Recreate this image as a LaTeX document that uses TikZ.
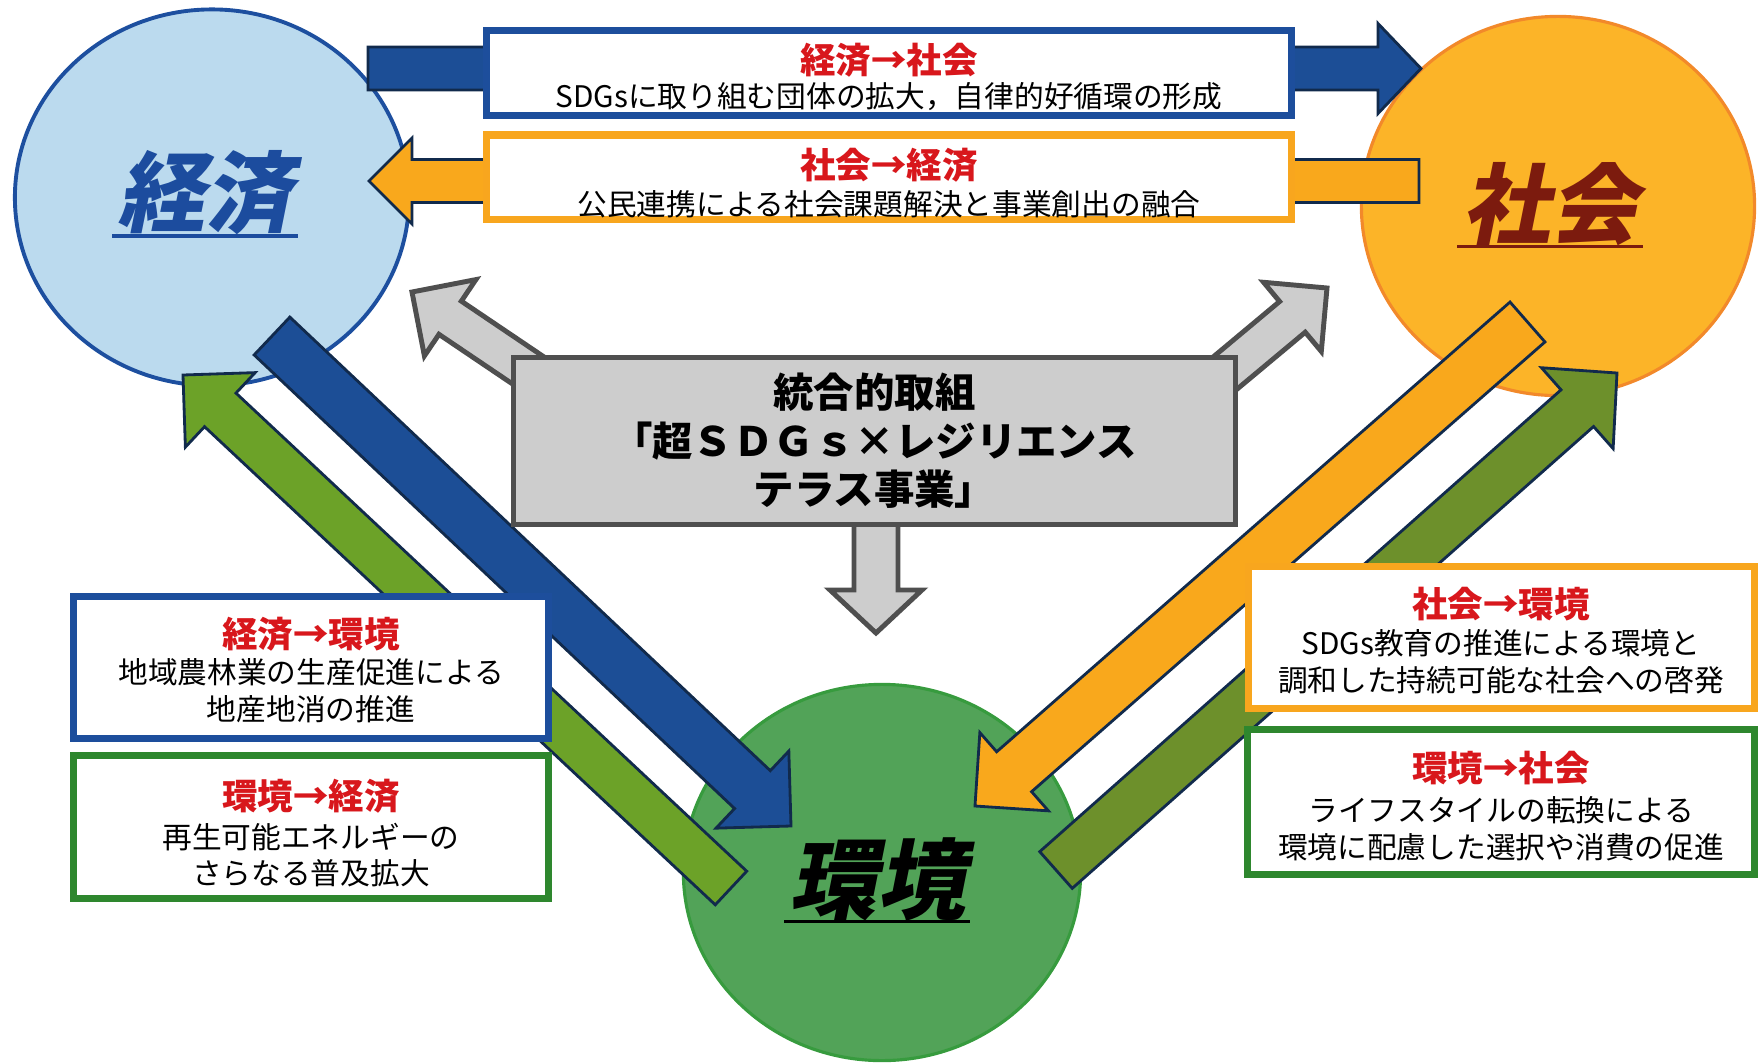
\documentclass[tikz,border=0pt]{standalone}
\usepackage{fontspec}
\setmainfont{Noto Sans CJK JP}
\newfontfamily\slantjp{Noto Sans CJK JP}[FakeSlant=0.2]
\usetikzlibrary{calc,shapes.geometric}

\definecolor{econFill}{HTML}{BBDAEE}
\definecolor{econLine}{HTML}{1D4F9F}
\definecolor{socFill}{HTML}{FCB428}
\definecolor{socLine}{HTML}{F2892A}
\definecolor{envFill}{HTML}{52A358}
\definecolor{envLine}{HTML}{379B3E}
\definecolor{arrBlue}{HTML}{1C4E96}
\definecolor{arrOrange}{HTML}{F9A81C}
\definecolor{arrGreenL}{HTML}{6CA228}
\definecolor{arrGreenR}{HTML}{6D902B}
\definecolor{navy}{HTML}{112A4C}
\definecolor{grayFill}{HTML}{CDCDCD}
\definecolor{grayLine}{HTML}{4F4F4F}
\definecolor{boxBlue}{HTML}{1D4E9C}
\definecolor{boxOrange}{HTML}{F8A61E}
\definecolor{boxGreen}{HTML}{2E872E}
\definecolor{titleRed}{HTML}{D8171C}
\definecolor{socText}{HTML}{7C1B0E}
\definecolor{econText}{HTML}{1C4C9E}

% block arrow: #1 style, #2 start, #3 tip, #4 half shaft, #5 half head, #6 head length
\newcommand\blockarr[6]{%
  \coordinate (ba-b) at ($(#3)!#6!(#2)$);
  \filldraw[#1] ($(#2)!#4!90:(#3)$) -- ($(ba-b)!#4!90:(#3)$) -- ($(ba-b)!#5!90:(#3)$) -- (#3)
    -- ($(ba-b)!#5!-90:(#3)$) -- ($(ba-b)!#4!-90:(#3)$) -- ($(#2)!#4!-90:(#3)$) -- cycle;}

\tikzset{
  circ/.style={ellipse, inner sep=0pt},
  arrBase/.style={line width=0.8pt, draw=navy, line join=miter},
  blueArr/.style={arrBase, fill=arrBlue},
  orangeArr/.style={arrBase, fill=arrOrange},
  greenArrL/.style={arrBase, fill=arrGreenL},
  greenArrR/.style={arrBase, fill=arrGreenR},
  grayArr/.style={fill=grayFill, draw=grayLine, line width=1.4pt, line join=miter},
  txtbox/.style={rectangle, fill=white, line width=2pt, inner sep=0pt},
  graybox/.style={rectangle, fill=grayFill, draw=grayLine, line width=1.5pt, inner sep=0pt,
    align=center, font=\fontsize{11.5pt}{13.8pt}\selectfont\bfseries},
  ttl/.style={text=titleRed, font=\fontsize{10.1pt}{12pt}\selectfont\bfseries, inner sep=0pt},
  bodytxt/.style={font=\fontsize{8.45pt}{10pt}\selectfont, inner sep=0pt},
  bigLabel/.style={font=\slantjp\fontsize{25pt}{30pt}\selectfont\bfseries, inner sep=0pt},
  underl/.style={line width=1.1pt},
}

\begin{document}
\begin{tikzpicture}[x=0.01cm,y=-0.01cm]
\useasboundingbox (0,0) rectangle (1759,1063);

% circles
\node[circ, draw=econLine, fill=econFill, line width=1.1pt, minimum width=3.94cm, minimum height=3.76cm] (econ) at (212,197.5) {};
\node[circ, draw=socLine, fill=socFill, line width=0.9pt, minimum width=3.93cm, minimum height=3.79cm] (soc) at (1558,206) {};
\node[circ, draw=envLine, fill=envFill, line width=0.9pt, minimum width=3.97cm, minimum height=3.76cm] (env) at (882,872.5) {};

% circle labels
\node[bigLabel, text=econText] (econL) at (205,193) {経済};
\draw[underl, econText] ([xshift=-0.04cm]econL.south west) -- ([xshift=0.04cm]econL.south east);
\node[bigLabel, text=socText] (socL) at (1550,204) {社会};
\draw[underl, socText] ([xshift=-0.04cm]socL.south west) -- ([xshift=0.04cm]socL.south east);
\node[bigLabel, text=black] (envL) at (877,879) {環境};
\draw[underl, black] ([xshift=-0.04cm]envL.south west) -- ([xshift=0.04cm]envL.south east);

% arrow end points
\coordinate (a1s) at (368,68.5);   \coordinate (a1t) at (1421,68.5);
\coordinate (a2s) at (1419,181);   \coordinate (a2t) at (369,181);
\coordinate (a3s) at (272,336);    \coordinate (a3t) at (791,826);
\coordinate (a4s) at (731,888);    \coordinate (a4t) at (183,375);
\coordinate (a5s) at (1527.5,322); \coordinate (a5t) at (975,806);
\coordinate (a6s) at (1056,870);   \coordinate (a6t) at (1617,373);
\coordinate (g1s) at (578,404);    \coordinate (g1t) at (412,292);
\coordinate (g2s) at (1212,384);   \coordinate (g2t) at (1327,288);
\coordinate (g3s) at (876,500);    \coordinate (g3t) at (876,633);

% arrows between the three spheres
\blockarr{blueArr}{a1s}{a1t}{0.215cm}{0.45cm}{0.43cm}
\blockarr{orangeArr}{a2s}{a2t}{0.215cm}{0.43cm}{0.43cm}
\blockarr{greenArrL}{a4s}{a4t}{0.23cm}{0.51cm}{0.51cm}
\blockarr{blueArr}{a3s}{a3t}{0.26cm}{0.53cm}{0.53cm}
\blockarr{greenArrR}{a6s}{a6t}{0.245cm}{0.54cm}{0.53cm}
\blockarr{orangeArr}{a5s}{a5t}{0.265cm}{0.52cm}{0.52cm}

% integrated approach
\blockarr{grayArr}{g1s}{g1t}{0.20cm}{0.46cm}{0.46cm}
\blockarr{grayArr}{g2s}{g2t}{0.20cm}{0.45cm}{0.45cm}
\blockarr{grayArr}{g3s}{g3t}{0.22cm}{0.46cm}{0.43cm}
\node[graybox, minimum width=7.22cm, minimum height=1.67cm] (core) at (874.5,441)
  {統合的取組\\「超ＳＤＧｓ×レジリエンス\\テラス事業」};

% top boxes
\node[txtbox, draw=boxBlue, minimum width=8.04cm, minimum height=0.84cm] (b1) at (889,73) {};
\node[ttl] (b1t) at (889,60) {経済→社会};
\node[bodytxt] (b1a) at (889,97) {SDGsに取り組む団体の拡大，自律的好循環の形成};
\node[txtbox, draw=boxOrange, minimum width=8.04cm, minimum height=0.84cm] (b2) at (889,177) {};
\node[ttl] (b2t) at (889,165) {社会→経済};
\node[bodytxt] (b2a) at (889,204) {公民連携による社会課題解決と事業創出の融合};

% left boxes
\node[txtbox, draw=boxBlue, minimum width=4.74cm, minimum height=1.41cm] (l1) at (311,667.5) {};
\node[ttl] (l1t) at (311,634) {経済→環境};
\node[bodytxt] (l1a) at (311,672) {地域農林業の生産促進による};
\node[bodytxt] (l1b) at (311,709) {地産地消の推進};
\node[txtbox, draw=boxGreen, minimum width=4.74cm, minimum height=1.42cm] (l2) at (311,827) {};
\node[ttl] (l2t) at (311,796) {環境→経済};
\node[bodytxt] (l2a) at (311,837) {再生可能エネルギーの};
\node[bodytxt] (l2b) at (311,873) {さらなる普及拡大};

% right boxes
\node[txtbox, draw=boxOrange, minimum width=5.05cm, minimum height=1.41cm] (r1) at (1501.5,637.5) {};
\node[ttl] (r1t) at (1501,604) {社会→環境};
\node[bodytxt] (r1a) at (1501,643) {SDGs教育の推進による環境と};
\node[bodytxt] (r1b) at (1501,680) {調和した持続可能な社会への啓発};
\node[txtbox, draw=boxGreen, minimum width=5.06cm, minimum height=1.44cm] (r2) at (1501,802) {};
\node[ttl] (r2t) at (1501,768) {環境→社会};
\node[bodytxt] (r2a) at (1501,810) {ライフスタイルの転換による};
\node[bodytxt] (r2b) at (1501,847) {環境に配慮した選択や消費の促進};
\end{tikzpicture}
\end{document}
